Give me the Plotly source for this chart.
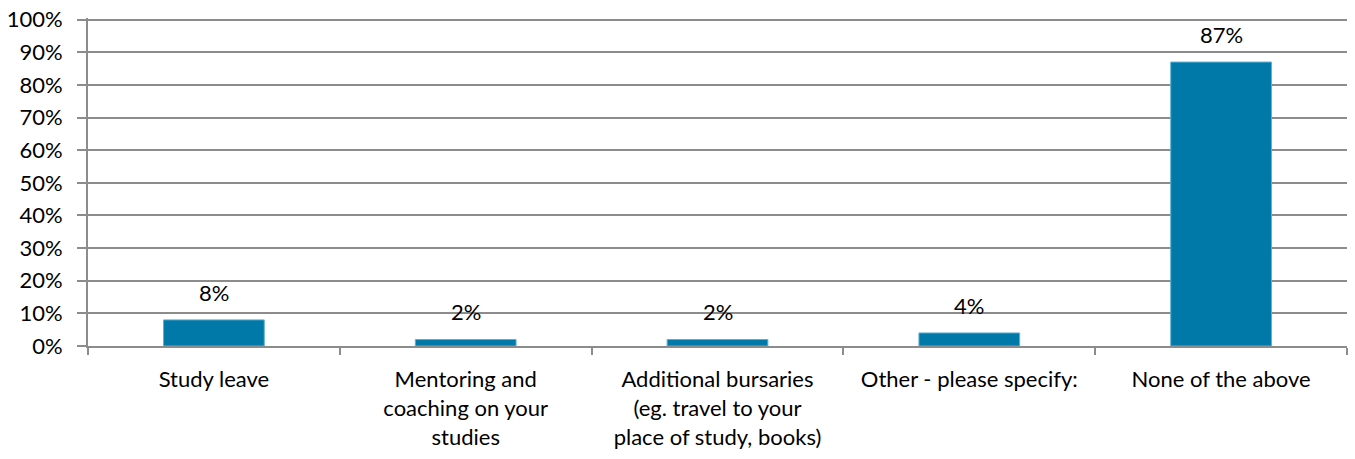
import plotly.graph_objects as go

categories = [
    "Study leave",
    "Mentoring and<br>coaching on your<br>studies",
    "Additional bursaries<br>(eg. travel to your<br>place of study, books)",
    "Other - please specify:",
    "None of the above",
]
shares = [8, 2, 2, 4, 87]
y_ticks = list(range(0, 101, 10))
y_tick_labels = [f"{v}%" for v in y_ticks]

BAR = "#0078A8"
LINE = "#8C8C8C"
FONT = "Lato, Arial, sans-serif"

fig = go.Figure(go.Bar(
    x=categories, y=shares, width=0.4,
    marker={"color": BAR, "line": {"color": "#5FAFCF", "width": 1}},
))

for cat, val in zip(categories, shares):
    fig.add_annotation(
        x=cat, y=val, text=f"{val}%", showarrow=False,
        yanchor="bottom", yshift=12, font={"size": 22, "color": "#000"},
    )

fig.update_layout(
    width=1355, height=459,
    paper_bgcolor="white", plot_bgcolor="white",
    font={"family": FONT, "size": 22, "color": "#000"},
    margin={"l": 88, "r": 8, "t": 18, "b": 113},
    showlegend=False,
    bargap=0.6,
)
fig.update_xaxes(
    automargin=False,
    showline=True, linecolor=LINE, linewidth=2,
    ticks="outside", tickson="boundaries", ticklen=7, tickcolor=LINE, tickwidth=2,
    showgrid=False, tickfont={"size": 22}, ticklabelstandoff=13,
)
fig.update_yaxes(
    automargin=False,
    range=[0, 100.5], tickvals=y_ticks, ticktext=y_tick_labels,
    showline=True, linecolor=LINE, linewidth=2,
    ticks="outside", ticklen=9, tickcolor=LINE, tickwidth=2,
    showgrid=True, gridcolor=LINE, gridwidth=2, zeroline=False,
    tickfont={"size": 22}, ticklabelstandoff=10, ticklabeloverflow="allow",
)

# drop the browser's default 8px body margin so the figure sits at the page corner
fig.write_html(
    "out.html",
    config={"displayModeBar": False},
    post_script="document.body.style.margin='0';",
)
